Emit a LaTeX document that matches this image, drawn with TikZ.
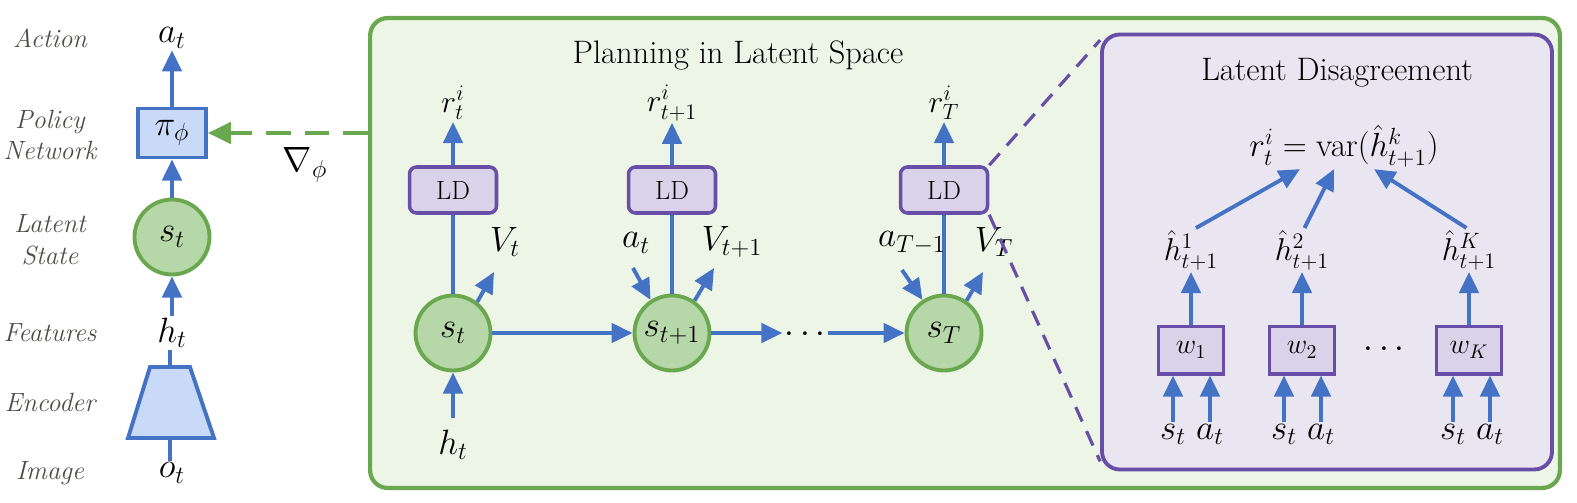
\RequirePackage{fix-cm}
\documentclass[tikz,border=0pt]{standalone}
\usetikzlibrary{arrows.meta,positioning}
\definecolor{lineblue}{HTML}{4472C4}
\definecolor{boxblue}{HTML}{C9DAF8}
\definecolor{planegreen}{HTML}{6AA84F}
\definecolor{planefill}{HTML}{EDF6E6}
\definecolor{statefill}{HTML}{B6D7A8}
\definecolor{ldpurple}{HTML}{674EA7}
\definecolor{ldfill}{HTML}{D9D2E9}
\definecolor{ldback}{HTML}{E9E5F1}
\definecolor{sidegray}{HTML}{4F4B48}
\begin{document}
\begin{tikzpicture}
            [x=0.02cm, y=-0.02cm,
             arr/.style={draw=lineblue, line width=2.2pt, -{Triangle[length=12pt,width=11pt]}},
             plain/.style={draw=lineblue, line width=2.2pt},
             state node/.style={circle, draw=planegreen, fill=statefill, line width=2.2pt,
                                minimum size=1.5cm, inner sep=0pt, font=\fontsize{20}{24}\selectfont},
             ld node/.style={rectangle, rounded corners=4pt, draw=ldpurple, fill=ldfill, line width=2pt,
                             minimum width=1.74cm, minimum height=0.92cm, font=\fontsize{15}{18}\selectfont},
             w node/.style={rectangle, draw=ldpurple, fill=ldfill, line width=2pt,
                            minimum width=1.3cm, minimum height=0.95cm, font=\fontsize{16}{18}\selectfont},
             math node/.style={inner sep=1pt, font=\fontsize{20}{24}\selectfont},
             small math/.style={inner sep=1pt, font=\fontsize{18}{21}\selectfont},
             side label/.style={text=sidegray, align=center, font=\fontsize{15}{18}\selectfont\itshape},
             title/.style={font=\fontsize{18.5}{22}\selectfont}]
            \useasboundingbox (0,0) rectangle (1577,503);

            % left column
            \node[side label] at (50,38) {Action};
            \node[side label] at (50,135) {Policy\\Network};
            \node[side label] at (50,240) {Latent\\State};
            \node[side label] at (50,333) {Features};
            \node[side label] at (50,402) {Encoder};
            \node[side label] at (50,473) {Image};

            \node[math node] (al) at (172,38) {$a_t$};
            \node[rectangle, draw=lineblue, fill=boxblue, line width=2.2pt, minimum width=1.36cm,
                  minimum height=0.98cm, font=\fontsize{20}{24}\selectfont] (pol) at (172,133) {$\pi_\phi$};
            \node[state node] (sl) at (172,237) {$s_t$};
            \node[math node] (hl) at (172,333) {$h_t$};
            \coordinate (enct) at (170,367);
            \coordinate (encb) at (170,438);
            \draw[draw=lineblue, fill=boxblue, line width=2.2pt]
                (150,367) -- (190,367) -- (214,438) -- (128,438) -- cycle;
            \node[math node] (ol) at (172,473) {$o_t$};

            \draw[arr] (pol) -- (al);
            \draw[arr] (sl) -- (pol);
            \draw[arr] (hl) -- (sl);
            \draw[plain] (hl.south -| enct) -- (enct);
            \draw[plain] (encb) -- (ol.north -| encb);

            % planning box
            \node[rectangle, rounded corners=10pt, draw=planegreen, fill=planefill, line width=2.4pt,
                  minimum width=23.8cm, minimum height=9.4cm] (plan) at (965,253) {};
            \node[title] at (738,55) {Planning in Latent Space};

            \draw[draw=planegreen, line width=2.4pt, dash pattern=on 14pt off 8pt,
                  -{Triangle[length=13pt,width=12pt]}] (plan.west |- pol) -- (pol);
            \node[math node] at (305,165) {$\nabla_\phi$};

            \node[state node] (s1) at (453,333) {$s_t$};
            \node[state node] (s2) at (672,333) {$s_{t+1}$};
            \node[math node] (dots) at (805,335) {$\cdots$};
            \node[state node] (s3) at (944,333) {$s_T$};

            \node[ld node] (ld1) at (453,190) {LD};
            \node[ld node] (ld2) at (672,190) {LD};
            \node[ld node] (ld3) at (944,190) {LD};

            \node[small math] (r1) at (453,103) {$r^i_t$};
            \node[small math] (r2) at (672,103) {$r^i_{t+1}$};
            \node[small math] (r3) at (944,103) {$r^i_T$};

            \draw[arr] (s1) -- (s2);
            \draw[arr] (s2) -- (s2 -| dots.west);
            \draw[arr] (s3 -| dots.east) -- (s3);

            \foreach \i in {1,2,3} {
                \draw[plain] (s\i) -- (ld\i);
                \draw[arr] (ld\i) -- (r\i);
            }

            \node[math node] (hin) at (453,445) {$h_t$};
            \draw[arr, shorten <=6pt] (hin) -- (s1);

            \node[math node] (v1) at (505,242) {$V_t$};
            \node[math node] (v2) at (732,242) {$V_{t+1}$};
            \node[math node] (v3) at (994,242) {$V_T$};
            \node[math node] (a2) at (636,243) {$a_t$};
            \node[math node] (a3) at (912,243) {$a_{T-1}$};
            \coordinate (v1tip) at (494,272);
            \coordinate (v2tip) at (714,268);
            \coordinate (v3tip) at (983,272);
            \coordinate (a2tail) at (633,268);
            \coordinate (a3tail) at (902,270);
            \draw[arr] (s1.52) -- (v1tip);
            \draw[arr] (s2.55) -- (v2tip);
            \draw[arr] (s3.55) -- (v3tip);
            \draw[arr] (a2tail) -- (s2.123);
            \draw[arr] (a3tail) -- (s3.123);

            % latent disagreement box
            \node[rectangle, rounded corners=10pt, draw=ldpurple, fill=ldback, line width=2.2pt,
                  minimum width=9cm, minimum height=8.7cm] (dis) at (1327,252) {};
            \draw[draw=ldpurple, line width=1.8pt, dash pattern=on 9pt off 6pt]
                (ld3.north east) -- ([yshift=-0.15cm]dis.north west);
            \draw[draw=ldpurple, line width=1.8pt, dash pattern=on 9pt off 6pt]
                (ld3.south east) -- ([yshift=0.2cm]dis.south west);
            \node[title] at (1337,73) {Latent Disagreement};
            \node[small math, font=\fontsize{19}{22}\selectfont] (frm) at (1344,146)
                {$r^i_t = \mathrm{var}(\hat{h}^k_{t+1})$};

            \node[small math] (hh1) at (1191,250) {$\hat{h}^1_{t+1}$};
            \node[small math] (hh2) at (1302,250) {$\hat{h}^2_{t+1}$};
            \node[small math] (hh3) at (1469,250) {$\hat{h}^K_{t+1}$};
            \node[w node] (w1) at (1191,350) {$w_1$};
            \node[w node] (w2) at (1302,350) {$w_2$};
            \node[w node] (w3) at (1469,350) {$w_K$};
            \node[math node] at (1384,350) {$\cdots$};

            \draw[arr] ([xshift=0.1cm]hh1.north) -- ([xshift=-0.88cm]frm.south);
            \draw[arr] ([xshift=0.05cm]hh2.north) -- ([xshift=-0.2cm]frm.south);
            \draw[arr] ([xshift=-0.05cm]hh3.north) -- ([xshift=0.6cm]frm.south);

            \foreach \i/\x in {1/1173, 2/1284, 3/1453} {
                \node[math node, anchor=north] (sin\i) at (\x,422) {$s_t$};
                \node[math node, anchor=north] (ain\i) at (\x+37,422) {$a_t$};
                \draw[arr] (w\i) -- (hh\i);
                \draw[arr] (sin\i.north) -- (sin\i.north |- w\i.south);
                \draw[arr] (ain\i.north) -- (ain\i.north |- w\i.south);
            }
         \end{tikzpicture}
\end{document}
